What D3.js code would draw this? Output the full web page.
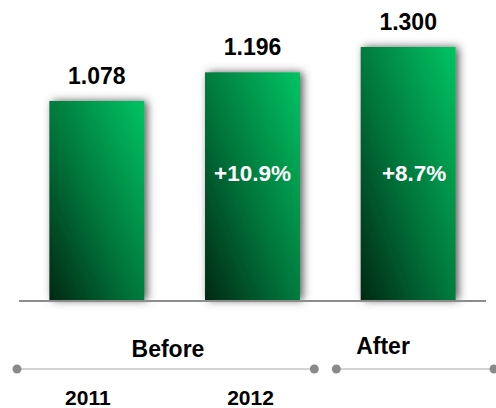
<!DOCTYPE html>
<html>
<head>
<meta charset="utf-8">
<script src="https://cdn.jsdelivr.net/npm/d3@7"></script>
<style>
  body { margin: 0; background: #fff; }
  text { font-family: "Liberation Sans", Arial, sans-serif; font-weight: bold; }
</style>
</head>
<body>
<div id="chart"></div>
<script>
// Data
var years = ["2011", "2012", "2013"];
var yearLabels = ["2011", "2012", ""];
var values = [1.078, 1.196, 1.300];
var growth = ["", "+10.9%", "+8.7%"];
var groups = ["Before", "After"];

var width = 496;
var height = 408;
var baseY = 300;

var svg = d3.select("#chart")
    .append("svg")
    .attr("width", width)
    .attr("height", height);

// gradient + shadow
var defs = svg.append("defs");
var grad = defs.append("linearGradient")
    .attr("id", "barGrad")
    .attr("x1", "0").attr("y1", "1")
    .attr("x2", "1").attr("y2", "0");
grad.append("stop").attr("offset", "0%").attr("stop-color", "#002914");
grad.append("stop").attr("offset", "45%").attr("stop-color", "#00743a");
grad.append("stop").attr("offset", "100%").attr("stop-color", "#00c463");

var shadow = defs.append("filter")
    .attr("id", "shadow")
    .attr("x", "-30%").attr("y", "-30%")
    .attr("width", "160%").attr("height", "160%");
shadow.append("feDropShadow")
    .attr("dx", 3).attr("dy", 0)
    .attr("stdDeviation", 4)
    .attr("flood-color", "#4a4a4a")
    .attr("flood-opacity", 0.9);

// scales
var x = d3.scaleBand()
    .domain(years)
    .range([19, 486])
    .paddingInner(0.39)
    .paddingOuter(0.195);

var y = d3.scaleLinear()
    .domain([0.26, 1.3])
    .range([baseY, 47]);

// bars
svg.selectAll("rect.bar")
    .data(values)
    .enter()
    .append("rect")
    .attr("class", "bar")
    .attr("x", (d, i) => x(years[i]))
    .attr("y", d => y(d))
    .attr("width", x.bandwidth())
    .attr("height", d => baseY - y(d))
    .attr("fill", "url(#barGrad)")
    .attr("filter", "url(#shadow)");

// baseline
svg.append("line")
    .attr("x1", x.range()[0]).attr("x2", x.range()[1])
    .attr("y1", baseY + 1).attr("y2", baseY + 1)
    .attr("stroke", "#8c8c8c")
    .attr("stroke-width", 2);

// value labels
svg.selectAll("text.val")
    .data(values)
    .enter()
    .append("text")
    .attr("class", "val")
    .attr("x", (d, i) => x(years[i]) + x.bandwidth() / 2)
    .attr("y", d => y(d) - 17)
    .attr("text-anchor", "middle")
    .style("font-size", "23px")
    .attr("fill", "#000")
    .text(d => d3.format(".3f")(d));

// growth labels
svg.selectAll("text.growth")
    .data(growth)
    .enter()
    .append("text")
    .attr("class", "growth")
    .attr("x", (d, i) => x(years[i]) + x.bandwidth() / 2 + (i === 2 ? 6 : 0))
    .attr("y", 181)
    .attr("text-anchor", "middle")
    .style("font-size", "22.5px")
    .attr("fill", "#fff")
    .text(d => d);

// timeline
var lineY = 369;
var split = (x(years[1]) + x.bandwidth() + x(years[2])) / 2 - 5;
var segs = [[17, split - 11], [split + 11, 494]];
var groupLabelX = [168, 383];
var groupLabelY = [357, 354];

segs.forEach(function (s, i) {
    svg.append("line")
        .attr("x1", s[0]).attr("x2", s[1])
        .attr("y1", lineY).attr("y2", lineY)
        .attr("stroke", "#c4c4c4")
        .attr("stroke-width", 1.5);
    svg.selectAll(null)
        .data(s)
        .enter()
        .append("circle")
        .attr("cx", d => d)
        .attr("cy", lineY)
        .attr("r", 4.5)
        .attr("fill", "#8a8a8a");
    svg.append("text")
        .attr("x", groupLabelX[i])
        .attr("y", groupLabelY[i])
        .attr("text-anchor", "middle")
        .style("font-size", "23px")
        .text(groups[i]);
});

// year labels
svg.selectAll("text.year")
    .data(yearLabels)
    .enter()
    .append("text")
    .attr("class", "year")
    .attr("x", (d, i) => x(years[i]) + x.bandwidth() / 2 - (i === 0 ? 9 : 2))
    .attr("y", 405)
    .attr("text-anchor", "middle")
    .style("font-size", "21px")
    .text(d => d);
</script>
</body>
</html>
